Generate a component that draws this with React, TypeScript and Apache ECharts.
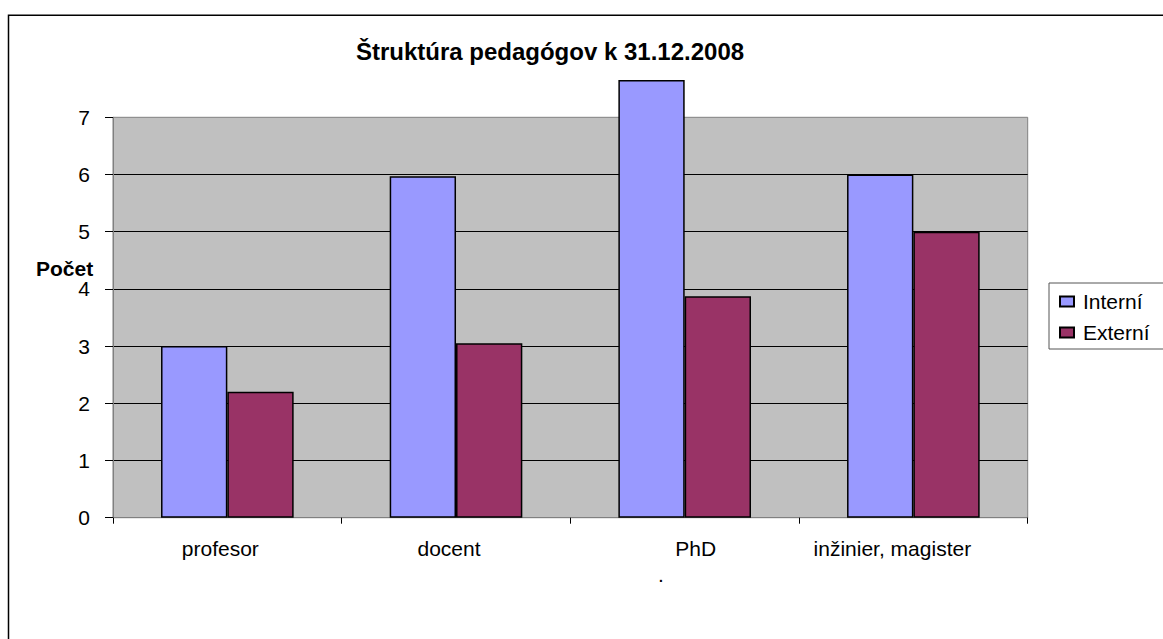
import React, { useEffect, useRef } from "react";
import * as echarts from "echarts";

const title = "Štruktúra pedagógov k 31.12.2008";
const yName = "Počet";
const categories = ["profesor", "docent", "PhD", "inžinier, magister"];
const seriesNames = ["Interní", "Externí"];
const interni = [3, 5.97, 7.65, 6];
const externi = [2.2, 3.05, 3.87, 5];
const yTicks = [0, 1, 2, 3, 4, 5, 6, 7];

export default function App() {
  const ref = useRef<HTMLDivElement>(null);
  useEffect(() => {
    const chart = echarts.init(ref.current!, null, { renderer: "svg" });
    const font = "'Liberation Sans', Arial, sans-serif";
    const shifts = [-7, -7, 11, -21];
    const rich: any = {};
    shifts.forEach((s, i) => {
      rich["c" + i] = {
        fontSize: 21,
        fontFamily: font,
        color: "#000",
        padding: s < 0 ? [0, -2 * s, 0, 0] : [0, 0, 0, 2 * s],
      };
    });
    chart.setOption({
      animation: false,
      backgroundColor: "#fff",
      textStyle: { fontFamily: font },
      graphic: [
        {
          type: "rect",
          shape: { x: 8.5, y: 15.3, width: 1300, height: 900 },
          style: { fill: "none", stroke: "#000", lineWidth: 1.5 },
          z: 0,
        },
        {
          type: "text",
          x: 550,
          y: 51,
          style: {
            text: title,
            fontSize: 24,
            fontWeight: "bold",
            fontFamily: font,
            fill: "#000",
            textAlign: "center",
            textVerticalAlign: "middle",
          },
        },
        {
          type: "text",
          x: 36,
          y: 268,
          style: {
            text: yName,
            fontSize: 21,
            fontWeight: "bold",
            fontFamily: font,
            fill: "#000",
            textAlign: "left",
            textVerticalAlign: "middle",
          },
        },
        {
          type: "text",
          x: 661,
          y: 574,
          style: {
            text: ".",
            fontSize: 21,
            fontFamily: font,
            fill: "#000",
            textAlign: "center",
            textVerticalAlign: "middle",
          },
        },
      ],
      grid: {
        left: 113,
        right: 135.3,
        top: 117.3,
        bottom: 121.3,
        show: true,
        backgroundColor: "#C0C0C0",
        borderColor: "#808080",
        borderWidth: 1,
      },
      legend: {
        data: seriesNames,
        orient: "vertical",
        left: 1049,
        top: 283,
        icon: "rect",
        itemWidth: 14,
        itemHeight: 10,
        itemGap: 10,
        padding: [8, 40, 6, 10],
        borderColor: "#555",
        borderWidth: 1,
        backgroundColor: "#fff",
        textStyle: {
          fontSize: 21,
          lineHeight: 21,
          color: "#000",
          fontFamily: font,
          padding: [0, 0, 0, 4],
        },
      },
      xAxis: {
        type: "category",
        data: categories,
        boundaryGap: true,
        axisLine: { lineStyle: { color: "#808080", width: 1 } },
        axisTick: { show: true, length: 6, lineStyle: { color: "#000" } },
        axisLabel: {
          margin: 20,
          formatter: (v: string) => {
            const i = categories.indexOf(v);
            return "{c" + i + "|" + v + "}";
          },
          rich,
        },
        splitLine: { show: false },
      },
      yAxis: {
        type: "value",
        min: yTicks[0],
        max: yTicks[yTicks.length - 1],
        interval: 1,
        axisLine: { show: true, lineStyle: { color: "#808080", width: 1 } },
        axisTick: { show: true, length: 8, lineStyle: { color: "#000" } },
        axisLabel: {
          margin: 23,
          fontSize: 21,
          color: "#000",
          fontFamily: font,
        },
        splitLine: {
          show: true,
          showMinLine: false,
          showMaxLine: false,
          lineStyle: { color: "#000", width: 1 },
        },
      },
      series: [
        {
          name: seriesNames[0],
          type: "bar",
          data: interni,
          clip: false,
          barGap: "0%",
          barCategoryGap: "42%",
          itemStyle: { color: "#9999FF", borderColor: "#000", borderWidth: 1.5 },
        },
        {
          name: seriesNames[1],
          type: "bar",
          data: externi,
          clip: false,
          barGap: "0%",
          barCategoryGap: "42%",
          itemStyle: { color: "#993366", borderColor: "#000", borderWidth: 1.5 },
        },
      ],
    });
    return () => chart.dispose();
  }, []);
  return (
    <div
      ref={ref}
      style={{ position: "fixed", left: 0, top: 0, width: 1163, height: 639 }}
    />
  );
}
